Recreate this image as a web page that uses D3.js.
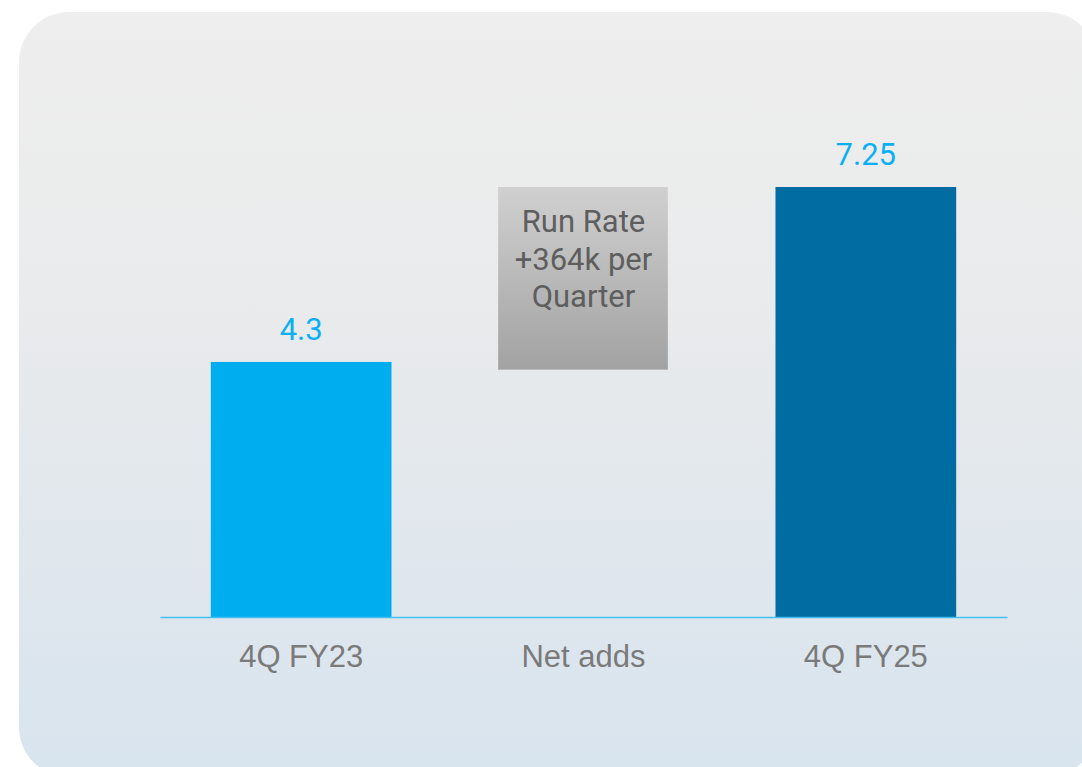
<!DOCTYPE html>
<html>
<head>
<meta charset="utf-8">
<script src="https://cdn.jsdelivr.net/npm/d3@7"></script>
<style>
	body {margin:0; background:#fff;}
	svg {display:block;}
</style>
</head>
<body>
<svg id="chart" width="1082" height="767"></svg>
<script>
//data
const categories = ['4Q FY23', 'Net adds', '4Q FY25'];
const barStart = [0, 4.17, 0];      //floating bar for net adds
const barEnd = [4.3, 7.25, 7.25];
const valueLabels = ['4.3', '', '7.25'];
const noteLines = ['Run Rate', '+364k per', 'Quarter'];

const barColors = ['#00aeef', 'url(#grayGrad)', '#006ca2'];

var svg = d3.select('#chart'),
	W = +svg.attr('width'),
	H = +svg.attr('height');

//gradients for panel and the net adds box
var defs = svg.append('defs');
var pg = defs.append('linearGradient').attr('id', 'panelGrad')
	.attr('x1', 0).attr('y1', 0).attr('x2', 0).attr('y2', 1);
pg.append('stop').attr('offset', '0%').attr('stop-color', '#eeeeee');
pg.append('stop').attr('offset', '35%').attr('stop-color', '#eaebec');
pg.append('stop').attr('offset', '100%').attr('stop-color', '#d8e4ee');

var gg = defs.append('linearGradient').attr('id', 'grayGrad')
	.attr('x1', 0).attr('y1', 0).attr('x2', 0).attr('y2', 1);
gg.append('stop').attr('offset', '0%').attr('stop-color', '#d0d0d0');
gg.append('stop').attr('offset', '100%').attr('stop-color', '#a2a2a2');

//rounded background panel, slightly off the right/bottom edge
svg.append('rect')
	.attr('x', 19).attr('y', 12)
	.attr('width', 1078).attr('height', 765)
	.attr('rx', 50).attr('ry', 50)
	.attr('fill', 'url(#panelGrad)');

var x = d3.scaleBand()
	.domain(categories)
	.range([160, 1007])
	.paddingInner(0.36)
	.paddingOuter(0.18);

var y = d3.scaleLinear()
	.domain([0, 7.25])
	.range([617, 187]);

var g = svg.append('g');

g.selectAll('rect.bar')
	.data(categories)
	.enter()
	.append('rect')
	.attr('class', 'bar')
	.attr('x', (d,i) => i === 1 ? x(d) + 5 : x(d))
	.attr('width', (d,i) => i === 1 ? x.bandwidth() - 11 : x.bandwidth())
	.attr('y', (d,i) => y(barEnd[i]))
	.attr('height', (d,i) => y(barStart[i]) - y(barEnd[i]))
	.attr('fill', (d,i) => barColors[i]);

//value labels over the bars
g.selectAll('text.val')
	.data(categories)
	.enter()
	.append('text')
	.attr('class', 'val')
	.attr('x', d => x(d) + x.bandwidth()/2)
	.attr('y', (d,i) => y(barEnd[i]) - 22)
	.attr('text-anchor', 'middle')
	.attr('font-family', 'Roboto, sans-serif')
	.attr('font-size', 31)
	.attr('fill', '#0cb0f2')
	.text((d,i) => valueLabels[i]);

//note inside the net adds box
var cx = x(categories[1]) + x.bandwidth()/2;
g.selectAll('text.note')
	.data(noteLines)
	.enter()
	.append('text')
	.attr('class', 'note')
	.attr('x', cx)
	.attr('y', (d,i) => 232 + i*37.5)
	.attr('text-anchor', 'middle')
	.attr('font-family', 'Roboto, sans-serif')
	.attr('font-size', 31)
	.attr('fill', '#5e5e5e')
	.text(d => d);

//category axis
var axis = svg.append('g')
	.attr('transform', `translate(0,${y(0)})`)
	.call(d3.axisBottom(x).tickSize(0).tickPadding(0));

axis.select('.domain')
	.attr('stroke', '#45bff0')
	.attr('stroke-width', 1.5);

axis.selectAll('text')
	.attr('dy', 0)
	.attr('y', 50)
	.attr('font-family', '"Liberation Sans", Arial, sans-serif')
	.attr('font-size', 31)
	.attr('fill', '#7a7a7a');
</script>
</body>
</html>
